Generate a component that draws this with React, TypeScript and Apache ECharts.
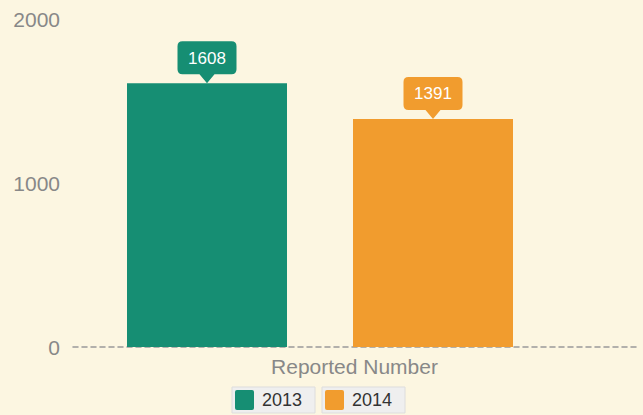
import React, { useEffect, useRef } from "react";
import * as echarts from "echarts";

const categories = ["Reported Number"];
const seriesNames = ["2013", "2014"];
const values2013 = [1608];
const values2014 = [1391];
const yTicks = { min: 0, max: 2000, interval: 1000 };
const colors = ["#168e73", "#f19c2e"];

const calloutPath =
  "path://M5,0 H54 Q59,0 59,5 V28 Q59,33 54,33 H37 L29.5,42 L22,33 H5 Q0,33 0,28 V5 Q0,0 5,0 Z";

export default function App() {
  const ref = useRef<HTMLDivElement>(null);
  useEffect(() => {
    if (!ref.current) return;
    const chart = echarts.init(ref.current, undefined, { renderer: "svg" });
    const font = "Arial";
    const makeSeries = (name: string, data: number[], color: string) => ({
      name,
      type: "bar",
      xAxisIndex: 1,
      yAxisIndex: 1,
      data,
      barWidth: 160,
      barGap: "41.25%",
      itemStyle: { color },
      markPoint: {
        symbol: calloutPath,
        symbolSize: [59, 42],
        symbolOffset: [0, "-50%"],
        itemStyle: { color },
        label: {
          show: true,
          color: "#fff",
          fontSize: 17,
          fontFamily: font,
          offset: [0, -4],
          formatter: "{c}",
        },
        data: [{ type: "max" }],
      },
    });
    const legendBase = {
      top: 387,
      orient: "horizontal",
      backgroundColor: "#efefef",
      borderColor: "#dddddd",
      borderWidth: 1,
      padding: [3, 13, 3, 3],
      itemWidth: 19,
      itemHeight: 20,
      icon: "path://M2,0 H17 Q19,0 19,2 V18 Q19,20 17,20 H2 Q0,20 0,18 V2 Q0,0 2,0 Z",
      textStyle: { fontSize: 18, color: "#333", fontFamily: font, padding: [0, 0, 0, 3] },
    };
    chart.setOption({
      animation: false,
      backgroundColor: "#fcf6e1",
      textStyle: { fontFamily: font },
      grid: [
        { left: 73, right: 7, top: 19, bottom: 68 },
        { left: 73, right: 76, top: 19, bottom: 68 },
      ],
      legend: [
        { ...legendBase, left: 232, data: [seriesNames[0]] },
        { ...legendBase, left: 322, data: [seriesNames[1]] },
      ],
      xAxis: [
        {
          type: "category",
          gridIndex: 0,
          data: categories,
          axisLine: { lineStyle: { color: "#999", width: 1.5, type: [5, 4] } },
          axisTick: { show: false },
          axisLabel: { color: "#888", fontSize: 21, margin: 9, fontFamily: font },
        },
        { type: "category", gridIndex: 1, data: categories, show: false },
      ],
      yAxis: [
        {
          type: "value",
          gridIndex: 0,
          min: yTicks.min,
          max: yTicks.max,
          interval: yTicks.interval,
          axisLine: { show: false },
          axisTick: { show: false },
          splitLine: { show: false },
          axisLabel: {
            color: "#888",
            fontSize: 21,
            margin: 13,
            fontFamily: font,
            formatter: (v: number) => String(v),
          },
        },
        {
          type: "value",
          gridIndex: 1,
          min: yTicks.min,
          max: yTicks.max,
          interval: yTicks.interval,
          show: false,
        },
      ],
      series: [
        makeSeries(seriesNames[0], values2013, colors[0]),
        makeSeries(seriesNames[1], values2014, colors[1]),
      ],
    });
    return () => chart.dispose();
  }, []);
  return (
    <div
      ref={ref}
      style={{ position: "fixed", left: 0, top: 0, width: 643, height: 415 }}
    />
  );
}
